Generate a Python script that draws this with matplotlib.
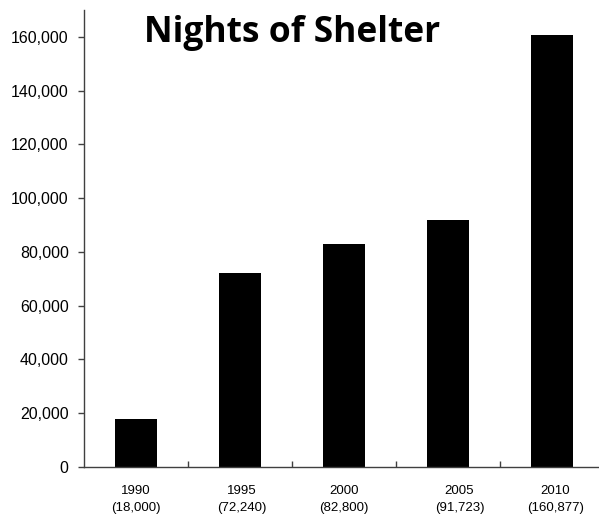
import numpy as np
import matplotlib.pyplot as plt

years = ['1990', '1995', '2000', '2005', '2010']
nights = [18000, 72240, 82800, 91723, 160877]
# small offsets of the category labels, as in the original
label_shift = [0.0, 0.02, 0.0, 0.11, 0.03]

fig = plt.figure(figsize=(5.99, 5.18), dpi=100)
W, H = 599, 518
ax = fig.add_axes([84 / W, 51 / H, 520 / W, 457 / H])

x = np.arange(len(years))
ax.bar(x, nights, width=0.4, color='black')

ax.set_xlim(-0.5, len(years) - 0.5)
ax.set_ylim(0, 170000)
ax.set_yticks(np.arange(0, 160001, 20000))
ax.set_yticklabels([f'{v:,}' for v in range(0, 160001, 20000)],
                   fontsize=11.5, family='Liberation Sans')
ax.tick_params(axis='y', direction='out', length=4.5, width=1, color='#404040', pad=6.5)

ax.set_xticks(x[:-1] + 0.5)
ax.set_xticklabels([])
ax.tick_params(axis='x', which='major', direction='in', length=4, width=1, color='#404040')
ax.set_xticks(x + np.array(label_shift), minor=True)
ax.set_xticklabels([f'{y}\n({v:,})' for y, v in zip(years, nights)], minor=True,
                   fontsize=9.5, family='Liberation Sans', linespacing=1.5)
ax.tick_params(axis='x', which='minor', length=0, pad=13)

for s in ['top', 'right']:
    ax.spines[s].set_visible(False)
for s in ['left', 'bottom']:
    ax.spines[s].set_color('#404040')
    ax.spines[s].set_linewidth(1)

fig.text(292 / W, 1 - 33 / H, 'Nights of Shelter', ha='center', va='center',
         fontsize=25.5, fontweight='bold', family='Open Sans')

fig.savefig('out.png', dpi=100)
